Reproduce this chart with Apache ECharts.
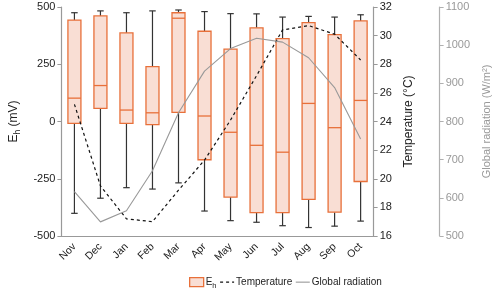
<!DOCTYPE html>
<html>
<head>
<meta charset="utf-8">
<script src="https://cdn.jsdelivr.net/npm/echarts@6/dist/echarts.min.js"></script>
<style>
html,body{margin:0;padding:0;background:#fff;}
#chart{width:500px;height:291px;}
</style>
</head>
<body>
<div id="chart"></div>
<script>
const months = ['Nov','Dec','Jan','Feb','Mar','Apr','May','Jun','Jul','Aug','Sep','Oct'];
const ehMin = [-401,-335,-289,-295,-268,-391,-433,-440,-455,-463,-457,-435];
const ehQ1 = [-8,57,-8,-14,40,-167,-330,-398,-398,-340,-396,-262];
const ehMedian = [102,157,50,38,451,24,-47,-104,-134,79,-27,92];
const ehQ3 = [443,461,387,240,475,394,316,409,362,432,379,439];
const ehMax = [475,483,475,483,487,480,471,470,456,459,456,466];
const temperature = [25.2,19.5,17.2,17.0,19.2,21.3,24.1,27.2,30.4,30.7,30.1,28.3];
const radiation = [616,537,566,671,823,932,991,1018,1008,967,889,754];

const FONT = '"Liberation Sans", Arial, sans-serif';
const boxData = months.map((m, i) => [i, ehMin[i], ehQ1[i], ehMedian[i], ehQ3[i], ehMax[i]]);

const BOX_FILL = '#f9ded4';
const BOX_EDGE = '#e8703a';
const WHISK = '#333333';

function renderBox(params, api) {
  const i = api.value(0);
  const pMin = api.coord([i, api.value(1)]);
  const pQ1 = api.coord([i, api.value(2)]);
  const pMed = api.coord([i, api.value(3)]);
  const pQ3 = api.coord([i, api.value(4)]);
  const pMax = api.coord([i, api.value(5)]);
  const bw = api.size([1, 0])[0] * 0.5;
  const cap = bw * 0.5;
  const x = pMed[0];
  return {
    type: 'group',
    children: [
      {type:'line', shape:{x1:x, y1:pMax[1], x2:x, y2:pQ3[1]}, style:{stroke:WHISK, lineWidth:1.2}},
      {type:'line', shape:{x1:x, y1:pQ1[1], x2:x, y2:pMin[1]}, style:{stroke:WHISK, lineWidth:1.2}},
      {type:'line', shape:{x1:x-cap/2, y1:pMax[1], x2:x+cap/2, y2:pMax[1]}, style:{stroke:WHISK, lineWidth:1.2}},
      {type:'line', shape:{x1:x-cap/2, y1:pMin[1], x2:x+cap/2, y2:pMin[1]}, style:{stroke:WHISK, lineWidth:1.2}},
      {type:'rect', shape:{x:x-bw/2, y:pQ3[1], width:bw, height:pQ1[1]-pQ3[1]}, style:{fill:BOX_FILL, stroke:BOX_EDGE, lineWidth:1.3}},
      {type:'line', shape:{x1:x-bw/2, y1:pMed[1], x2:x+bw/2, y2:pMed[1]}, style:{stroke:BOX_EDGE, lineWidth:1.3}}
    ]
  };
}

const chart = echarts.init(document.getElementById('chart'), null, {renderer:'canvas'});
chart.setOption({
  animation: false,
  textStyle: {fontFamily: FONT},
  grid: {left: 50, right: 123, top: 7, bottom: 55},
  legend: {
    top: 272,
    left: 184,
    itemGap: 3,
    itemWidth: 14,
    itemHeight: 9,
    textStyle: {fontFamily: FONT, fontSize: 10, color: '#222', padding: [0, 0, 0, -3],
      rich: {n:{fontSize:10, color:'#222', fontFamily: FONT}, s:{fontSize:7.5, color:'#222', fontFamily: FONT, padding:[7,0,0,0]}}},
    formatter: function(name){ return name === 'Eh' ? '{n|E}{s|h}' : name; },
    data: [
      {name:'Eh', icon:'rect', itemStyle:{color:BOX_FILL, borderColor:BOX_EDGE, borderWidth:1.3}},
      {name:'Temperature', itemStyle:{opacity:0}, lineStyle:{color:'#111', width:1.2, type:[3,3]}},
      {name:'Global radiation', itemStyle:{opacity:0}, lineStyle:{color:'#999', width:1.1}}
    ]
  },
  xAxis: {
    type: 'category',
    data: months,
    boundaryGap: true,
    axisLine: {onZero: false, lineStyle: {color: '#999', width: 1.2}},
    axisTick: {alignWithLabel: true, length: 3, lineStyle: {color: '#999'}},
    axisLabel: {rotate: 45, color: '#222', fontSize: 10.5, margin: 9, fontFamily: FONT}
  },
  yAxis: [
    {
      type: 'value', min: -500, max: 500, interval: 250, position: 'left',
      name: '{n|E}{s|h}{n| (mV)}', nameLocation: 'middle', nameGap: 30, nameRotate: 90,
      nameTextStyle: {rich: {n:{fontSize:12, color:'#222', fontFamily: FONT}, s:{fontSize:8.5, color:'#222', fontFamily: FONT, padding:[8,0,0,0]}}},
      axisLine: {show: true, onZero: false, lineStyle: {color: '#999', width: 1.2}},
      axisTick: {show: true, length: 4, lineStyle: {color: '#999'}},
      axisLabel: {color: '#222', fontSize: 11, margin: 6, fontFamily: FONT},
      splitLine: {show: false}
    },
    {
      type: 'value', min: 16, max: 32, interval: 2, position: 'right', offset: 0,
      name: 'Temperature (°C)', nameLocation: 'middle', nameGap: 26, nameRotate: 90,
      nameTextStyle: {fontSize: 12, color: '#222', fontFamily: FONT},
      axisLine: {show: true, onZero: false, lineStyle: {color: '#999', width: 1.2}},
      axisTick: {show: true, length: 4, lineStyle: {color: '#999'}},
      axisLabel: {color: '#222', fontSize: 11, margin: 6, fontFamily: FONT},
      splitLine: {show: false}
    },
    {
      type: 'value', min: 500, max: 1100, interval: 100, position: 'right', offset: 66,
      name: 'Global radiation (W/m²)', nameLocation: 'middle', nameGap: 38, nameRotate: 90,
      nameTextStyle: {fontSize: 11, color: '#999', fontFamily: FONT},
      axisLine: {show: true, onZero: false, lineStyle: {color: '#b0b0b0', width: 1.2}},
      axisTick: {show: true, length: 4, lineStyle: {color: '#b0b0b0'}},
      axisLabel: {color: '#999', fontSize: 11, margin: 6, fontFamily: FONT, formatter: function(v){ return String(v); }},
      splitLine: {show: false}
    }
  ],
  series: [
    {
      name: 'Eh', type: 'custom', yAxisIndex: 0,
      renderItem: renderBox,
      encode: {x: 0, y: [1, 2, 3, 4, 5]},
      itemStyle: {color: BOX_FILL, borderColor: BOX_EDGE},
      data: boxData, z: 2
    },
    {
      name: 'Temperature', type: 'line', yAxisIndex: 1, data: temperature,
      symbol: 'none', lineStyle: {color: '#111', width: 1.2, type: [3, 3]},
      itemStyle: {color: '#111'}, z: 3
    },
    {
      name: 'Global radiation', type: 'line', yAxisIndex: 2, data: radiation,
      symbol: 'none', lineStyle: {color: '#999', width: 1.1},
      itemStyle: {color: '#999'}, z: 3
    }
  ]
});
</script>
</body>
</html>
